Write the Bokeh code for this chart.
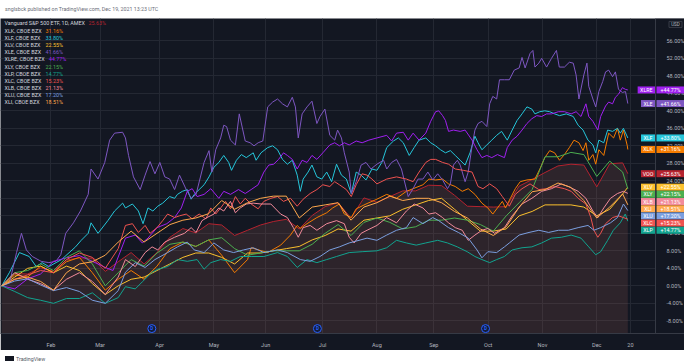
from bokeh.plotting import figure
from bokeh.models import Range1d, FixedTicker, PrintfTickFormatter, Label, Div
from bokeh.layouts import column
from bokeh.core.properties import value
from bokeh.embed import file_html
from bokeh.resources import INLINE

# ---------------- data ----------------
header_text = "snglsbck published on TradingView.com, Dec 19, 2021 13:23 UTC"
footer_text = "TradingView"

# trading-day index (0 = Jan 4 2021, 242 = Dec 17 2021) of the weekly samples
bar_idx = [0, 5, 10, 15, 20, 25, 30, 35, 40, 45, 50, 55, 60, 65, 70, 75, 80, 85, 90, 95,
           100, 105, 110, 115, 120, 125, 130, 135, 140, 145, 150, 155, 160, 165, 170, 175,
           180, 185, 190, 195, 200, 205, 210, 215, 220, 225, 230, 235, 240, 242]

month_idx = [19, 38, 61, 82, 102, 124, 145, 167, 188, 209, 230, 243]
month_labels = ["Feb", "Mar", "Apr", "May", "Jun", "Jul", "Aug", "Sep", "Oct", "Nov", "Dec", "20"]
y_ticks = [-8, -4, 0, 4, 8, 12, 16, 20, 24, 28, 32, 36, 40, 44, 48, 52, 56]
div_idx = [58, 122, 187]

voo = [0, 2.8, 2.7, 4.1, 3.4, 5.9, 6.4, 6.3, 3.3, 5.5,
       7.6, 5.0, 7.6, 11.1, 13.1, 12.1, 14.2, 13.9, 11.5, 12.7,
       13.9, 14.7, 15.2, 13.0, 16.1, 18.1, 19.0, 15.5, 20.1, 19.1,
       20.4, 21.7, 21.7, 23.0, 22.9, 20.7, 18.2, 18.1, 18.0, 18.1,
       22.8, 24.3, 25.9, 27.4, 27.8, 27.6, 22.6, 27.9, 28.1, 25.63]
xlv = [0, 2.0, 4.0, 4.5, 3.0, 4.5, 3.5, 0.5, -2.0, 0.0,
       1.5, 2.0, 3.5, 5.0, 6.5, 7.5, 7.5, 6.5, 5.0, 7.5,
       7.5, 8.0, 8.5, 9.0, 10.5, 11.5, 13.0, 12.5, 15.0, 15.5,
       16.0, 17.5, 18.5, 19.5, 20.0, 17.5, 15.0, 12.5, 12.5, 13.0,
       16.0, 17.0, 18.5, 18.5, 18.5, 18.0, 16.0, 17.5, 21.0, 22.55]
xly = [0, 3.0, 3.5, 5.0, 3.5, 6.5, 8.0, 5.0, 0.0, 3.0,
       6.0, 4.5, 7.5, 9.5, 10.0, 9.0, 10.5, 11.0, 8.5, 7.0,
       7.5, 8.0, 8.0, 8.0, 9.5, 12.0, 14.0, 11.5, 14.5, 15.5,
       14.5, 13.0, 13.5, 15.0, 15.0, 15.5, 15.0, 14.0, 12.5, 16.0,
       19.0, 22.0, 29.5, 29.5, 30.5, 30.0, 25.0, 28.5, 26.0, 22.15]
xli = [0, 1.5, 2.0, 1.0, -1.0, 3.0, 5.0, 5.5, 7.0, 10.0,
       12.5, 10.0, 12.0, 14.0, 15.0, 15.5, 16.5, 19.5, 17.5, 19.0,
       20.0, 20.5, 20.5, 15.5, 18.0, 18.5, 19.0, 15.0, 18.0, 19.0,
       20.5, 19.5, 20.0, 20.0, 19.0, 17.0, 15.5, 13.0, 11.5, 13.5,
       18.0, 21.5, 22.0, 23.5, 22.5, 19.5, 15.5, 18.0, 21.0, 18.51]

# more finely read series (each with its own time index)
xlk_idx = [0, 5, 10, 15, 20, 25, 30, 35, 40, 45, 50, 55, 60, 65, 70, 75, 80, 85, 90, 95,
           96.4, 102.8, 107.8, 111.6, 114.2, 115.4, 118.0, 121.8, 125.6, 127.9, 130.5, 132.4,
           135.1, 137.0, 140.8, 145.0, 148.8, 152.6, 156.4, 159.0, 162.8, 165.1, 167.7, 170.4,
           172.7, 175.3, 178.0, 180.3, 182.9, 185.6, 187.9, 189.8, 191.6, 193.5, 194.7, 196.6,
           198.5, 200.4, 203.0, 206.1, 208.0, 209.9, 211.8, 213.7, 215.6, 217.5, 219.4, 221.2,
           223.1, 224.7, 225.8, 226.9, 228.5, 229.6, 230.8, 232.7, 234.6, 236.5, 238.0, 239.1,
           240.3, 241.8, 242]
xlk = [0, 2.5, 2.0, 4.5, 3.0, 5.5, 6.5, 3.0, -1.0, 1.5, 3.5, 1.5, 4.5, 8.5, 10.0, 9.0, 10.5,
       7.0, 3.0, 6.0,
       8.7, 7.6, 9.3, 11.6, 13.8, 13.1, 14.2, 15.6, 16.7, 17.8, 18.7, 16.4,
       15.6, 17.6, 18.7, 19.8, 20.9, 20.0, 21.6, 22.2, 23.1, 24.4, 24.2, 24.4,
       23.3, 22.7, 21.6, 22.2, 20.9, 18.9, 17.8, 16.4, 17.8, 19.3, 17.8, 20.0,
       22.2, 23.8, 24.2, 24.4, 26.7, 29.3, 30.9, 30.4, 28.7, 30.0, 31.6, 33.3,
       32.7, 30.9, 32.7, 28.7, 30.0, 27.8, 31.1, 29.8, 34.9, 33.8, 36.0, 33.3,
       35.6, 32.0, 31.16]

xlp_idx = [0, 5, 10, 15, 20, 25, 30, 35, 40, 45, 47.8, 51.6, 54.3, 58.1, 60.3, 64.1, 67.9,
           71.7, 75.5, 78.2, 80.8, 84.6, 88.4, 92.2, 96.4, 101.3, 106.6, 110.4, 114.2, 118.0,
           121.8, 125.6, 129.4, 134.3, 139.3, 145.0, 148.8, 152.6, 156.4, 160.2, 163.9, 168.5,
           172.3, 176.1, 179.9, 182.9, 185.6, 188.6, 191.3, 194.3, 197.3, 201.1, 204.9, 208.7,
           212.5, 216.3, 220.1, 223.9, 226.9, 229.6, 231.5, 234.2, 236.4, 239.1, 241.0, 242]
xlp = [0, -1.3, -2.7, -3.3, -4.0, -2.9, -2.9, -1.6, -4.0, -2.7, -0.2, -0.7, 0.9, 3.1, 3.8,
       4.4, 6.0, 5.6, 6.0, 3.8, 5.3, 6.0, 5.6, 6.7, 6.7, 6.7, 7.6, 6.7, 4.2, 6.0,
       5.3, 6.0, 6.7, 7.6, 7.8, 8.0, 8.7, 10.4, 9.8, 9.3, 9.8, 10.4,
       9.8, 8.9, 7.8, 6.7, 6.0, 5.3, 6.0, 6.7, 8.2, 8.7, 8.9, 9.8,
       10.9, 11.1, 11.6, 10.9, 8.9, 7.1, 7.8, 10.4, 12.7, 14.4, 16.4, 14.77]

xlu_idx = [0, 5, 10, 15, 20, 25, 30, 35, 40, 45, 47.8, 51.6, 55.4, 59.2, 64.1, 67.9, 71.7,
           74.4, 78.2, 82.0, 85.8, 89.6, 93.4, 97.2, 101.3, 106.6, 110.4, 115.4, 119.2, 123.0,
           126.8, 130.5, 134.3, 138.1, 141.2, 145.0, 148.8, 152.6, 156.4, 159.0, 162.8, 166.6,
           168.9, 172.7, 176.5, 180.3, 183.7, 185.6, 187.9, 191.3, 194.3, 196.2, 200.0, 203.8,
           207.6, 211.4, 215.2, 219.0, 222.8, 226.6, 228.9, 231.5, 235.3, 238.0, 240.3, 242]
xlu = [0, 1.1, 1.6, 0.2, -1.1, -0.4, -1.3, -3.3, -4.0, -1.1, 3.1, 5.3, 4.2, 6.0, 7.6, 8.9,
       10.0, 8.2, 7.6, 9.8, 8.2, 7.6, 8.2, 8.7, 7.6, 8.2, 7.6, 6.0, 5.6, 6.7,
       8.2, 8.9, 9.8, 10.4, 10.9, 10.4, 11.6, 12.7, 13.3, 15.6, 14.2, 15.6,
       14.9, 13.3, 12.2, 10.9, 8.2, 6.4, 7.8, 7.6, 8.9, 9.8, 11.6, 12.2,
       12.7, 12.2, 12.7, 12.7, 13.3, 13.8, 12.7, 13.3, 14.4, 15.6, 18.7, 17.2]

xlb_idx = [0, 5, 10, 15, 20, 25, 30, 35, 40, 45, 47.8, 51.6, 55.4, 58.1, 60.3, 63.0, 66.8,
           70.6, 73.2, 75.1, 77.4, 79.3, 82.0, 83.9, 85.8, 88.4, 90.3, 92.2, 94.5, 97.2, 100.2,
           104.0, 107.8, 110.4, 112.7, 114.6, 116.5, 119.2, 121.8, 125.6, 129.4, 132.4, 134.3,
           136.2, 138.9, 141.2, 145.0, 148.8, 152.6, 156.4, 159.4, 162.8, 165.1, 167.7, 170.4,
           172.7, 175.3, 178.0, 180.3, 182.9, 185.6, 187.9, 190.5, 194.3, 197.3, 201.1, 204.9,
           208.7, 212.5, 216.3, 219.0, 222.8, 225.8, 228.5, 230.4, 232.7, 235.3, 238.0, 240.3, 242]
xlb = [0, 3.0, 1.5, 0.5, -1.0, 1.5, 3.0, 1.0, -2.0, 2.0, 6.0, 4.4, 7.6, 8.9, 8.2, 10.0, 11.1,
       12.0, 13.3, 12.2, 14.9, 15.6, 16.4, 17.8, 17.1, 19.3, 16.7, 17.8, 18.7, 18.9, 18.7,
       18.7, 16.4, 15.6, 13.3, 11.1, 13.3, 13.8, 12.7, 14.2, 14.9, 14.2, 11.1,
       9.8, 12.0, 12.7, 13.8, 15.6, 14.4, 17.1, 18.7, 17.8, 16.4, 16.7, 15.6,
       14.4, 13.3, 12.7, 10.4, 11.6, 12.7, 13.1, 12.0, 13.3, 16.0, 18.7, 20.0,
       21.6, 22.2, 23.3, 22.7, 21.6, 20.0, 17.1, 15.6, 17.8, 20.0, 21.1, 21.6, 21.13]

xle_idx = [0, 3.0, 5.7, 7.6, 9.5, 11.8, 15.2, 18.2, 20.9, 22.8, 24.7, 27.7, 30.4, 33.4, 34.5,
           37.2, 39.8, 41.7, 43.6, 46.7, 47.8, 49.0, 50.9, 53.5, 55.4, 57.3, 59.2, 61.1, 63.0,
           64.9, 66.8, 68.7, 71.3, 73.2, 75.1, 78.2, 80.1, 81.2, 82.7, 84.6, 85.8, 86.9, 88.4,
           90.3, 91.8, 94.1, 96.0, 97.5, 99.1, 100.9, 102.8, 104.7, 106.6, 108.5, 110.4, 112.3,
           113.5, 114.6, 116.1, 118.0, 119.9, 121.8, 123.0, 124.9, 126.8, 128.7, 129.8, 131.3,
           132.4, 134.3, 135.1, 137.0, 138.9, 140.8, 142.7, 145.0, 147.6, 148.8, 150.7, 152.6,
           154.5, 157.1, 159.0, 160.9, 162.8, 164.7, 166.6, 168.5, 170.4, 172.3, 173.4, 174.6,
           176.1, 177.2, 179.1, 180.3, 181.8, 182.9, 184.1, 185.6, 187.5, 188.6, 189.8, 191.3,
           192.4, 194.3, 196.2, 198.1, 200.0, 201.1, 202.3, 204.2, 205.3, 206.1, 207.6, 208.7,
           210.6, 212.5, 214.4, 215.5, 217.5, 219.4, 220.9, 222.0, 223.1, 225.0, 226.2, 226.9,
           228.5, 229.6, 230.8, 232.3, 233.4, 234.6, 236.1, 237.2, 238.4, 239.9, 241.1, 242]
xle = [0, 0.7, 7.6, 12.0, 8.2, 6.7, 5.6, 5.3, 5.6, 7.1, 12.0, 14.4, 17.1, 20.9, 26.7,
       24.4, 28.2, 33.3, 34.9, 35.1, 33.8, 29.8, 24.9, 22.0, 25.3, 28.4, 25.6, 28.2, 24.9,
       24.4, 22.0, 25.3, 22.0, 20.0, 20.9, 28.2, 30.9, 26.0, 31.1, 33.8, 36.7, 36.4, 33.3,
       32.2, 39.3, 33.1, 32.7, 32.0, 32.7, 33.1, 40.9, 42.0, 42.7, 41.6, 40.9, 43.1,
       40.9, 33.8, 39.3, 40.9, 42.2, 37.1, 38.7, 40.4, 34.4, 33.3, 35.6, 33.8,
       30.4, 26.0, 21.1, 23.8, 27.6, 28.2, 26.7, 27.8, 28.7, 26.7, 28.2, 28.9,
       26.7, 20.4, 22.2, 24.4, 24.4, 26.0, 24.2, 25.6, 24.2, 22.2, 23.3, 27.6,
       28.7, 27.6, 23.8, 26.0, 32.0, 35.6, 37.1, 37.6, 36.4, 41.6, 43.3, 42.7,
       47.1, 47.1, 47.1, 49.3, 49.8, 52.2, 49.8, 53.1, 53.8, 50.0, 50.9, 52.0,
       50.0, 52.0, 53.8, 50.0, 50.0, 51.1, 50.9, 48.2, 42.7, 48.2, 50.9, 45.6,
       42.7, 40.9, 44.4, 46.7, 48.9, 49.3, 47.8, 48.9, 44.9, 44.2, 44.4, 41.66]

xlf_idx = [0, 3.0, 6.8, 10.6, 13.3, 15.6, 18.2, 23.1, 28.5, 30.7, 33.4, 34.5, 37.2, 41.0, 43.6,
           46.7, 47.8, 50.5, 52.8, 54.6, 56.5, 58.4, 60.3, 62.2, 64.9, 66.8, 67.9, 69.8, 71.7,
           73.2, 74.4, 76.3, 78.2, 80.1, 82.0, 83.9, 85.8, 87.7, 88.8, 90.7, 92.6, 94.5, 97.2,
           98.3, 100.2, 102.8, 104.7, 106.6, 108.5, 110.4, 112.3, 114.2, 115.4, 116.5, 118.4,
           119.9, 121.8, 123.7, 125.6, 127.5, 129.4, 131.3, 133.2, 135.1, 137.0, 138.9, 140.8,
           143.1, 145.0, 146.9, 148.8, 151.4, 153.3, 155.2, 157.5, 159.4, 161.3, 163.9, 165.8,
           167.7, 169.6, 171.5, 173.4, 175.3, 177.2, 179.1, 181.0, 182.9, 184.1, 185.6, 187.5,
           189.4, 191.3, 193.2, 195.4, 197.3, 199.2, 201.1, 203.0, 204.9, 206.1, 208.0, 209.9,
           211.8, 213.7, 215.6, 218.2, 220.9, 222.8, 224.7, 226.6, 228.5, 229.6, 230.8, 232.7,
           234.2, 236.1, 238.0, 239.1, 240.3, 242]
xlf = [0, 3.1, 7.6, 6.7, 4.4, 5.3, 4.4, 6.0, 8.9, 10.4, 12.0, 14.4, 12.0, 14.9, 17.1,
       18.9, 17.8, 18.7, 17.1, 14.2, 17.8, 17.1, 18.2, 18.9, 20.4, 20.0, 20.9, 21.6, 22.0,
       19.8, 20.9, 22.0, 23.1, 24.9, 27.1, 28.2, 29.8, 28.2, 26.4, 28.7, 30.0, 29.3, 30.4,
       28.7, 30.4, 31.6, 32.0, 31.1, 28.9, 27.8, 28.7, 25.3, 21.6, 24.4, 26.0,
       27.6, 24.9, 24.4, 26.0, 23.8, 27.8, 25.3, 24.4, 21.1, 26.0, 25.3, 24.2,
       26.7, 26.4, 28.2, 31.6, 33.1, 33.8, 32.7, 29.8, 31.6, 33.3, 33.8, 32.7,
       32.0, 31.1, 30.4, 30.9, 29.8, 28.7, 27.6, 30.4, 34.2, 32.7, 31.1, 32.2,
       33.3, 34.4, 35.3, 33.3, 35.6, 37.8, 39.3, 40.9, 40.4, 39.3, 39.8, 40.0,
       39.8, 39.3, 38.9, 39.3, 38.7, 36.7, 35.6, 33.3, 32.2, 30.4, 33.3, 32.7,
       35.6, 35.3, 36.0, 34.9, 36.0, 33.80]

xlre_idx = [0, 5, 10, 15, 20, 25, 30, 35, 40, 43, 47.8, 51.6, 54.3, 56.5, 60.0, 63.8, 66.8,
            69.4, 71.7, 73.6, 75.5, 78.2, 80.8, 83.9, 85.8, 88.4, 91.5, 94.1, 96.4, 99.1,
            101.3, 103.2, 105.1, 107.0, 108.9, 110.4, 112.3, 114.2, 116.1, 118.0, 119.9, 121.8,
            124.1, 126.8, 128.7, 130.5, 132.4, 134.3, 137.0, 139.3, 141.9, 145.0, 148.8, 150.7,
            152.6, 155.2, 157.1, 159.0, 161.3, 163.9, 165.8, 167.7, 168.9, 170.4, 171.5, 172.7,
            174.6, 177.2, 179.1, 181.8, 183.7, 185.6, 187.5, 189.4, 191.6, 194.3, 195.4, 197.3,
            199.2, 201.1, 203.0, 204.9, 206.8, 208.7, 210.6, 212.5, 215.2, 217.5, 220.1, 222.0,
            223.9, 225.8, 226.9, 228.5, 230.4, 231.5, 233.4, 234.6, 236.1, 237.2, 238.4, 239.9,
            241.1, 242]
xlre = [0, -0.7, 1.6, 2.7, 5.6, 6.4, 6.9, 5.6, 4.2, 3.5, 10.9, 11.6, 9.8, 10.9, 13.3, 14.2, 15.6,
        17.8, 21.6, 22.2, 20.4, 20.9, 22.2, 20.0, 21.6, 20.9, 22.0, 21.1, 22.0, 23.1,
        26.0, 27.6, 27.8, 28.9, 30.4, 29.8, 28.9, 26.7, 28.7, 28.2, 29.8, 28.9,
        30.4, 32.2, 32.7, 32.0, 32.7, 32.2, 33.1, 32.7, 33.3, 33.8, 34.4, 33.1,
        34.9, 35.1, 33.3, 34.9, 33.3, 34.9, 37.6, 39.8, 40.0, 38.9, 37.8, 35.3,
        35.6, 35.3, 35.6, 33.3, 31.1, 29.3, 29.8, 29.3, 30.0, 29.3, 31.6, 33.3,
        34.2, 35.6, 37.1, 38.2, 38.9, 38.7, 39.3, 39.3, 39.8, 39.8, 39.3, 39.8,
        38.7, 41.6, 38.7, 37.6, 35.6, 38.7, 41.1, 42.0, 41.6, 43.1, 43.8, 45.3,
        44.9, 44.77]

xlc_idx = [0, 5, 10, 15, 20, 25, 30, 35, 40, 45, 47.8, 50.5, 52.8, 55.4, 57.3, 60.0, 62.2,
           64.1, 66.8, 68.7, 71.3, 73.6, 76.3, 78.9, 80.8, 82.7, 84.6, 86.5, 88.4, 90.3, 92.2,
           94.1, 96.4, 99.1, 101.3, 104.0, 106.6, 108.9, 111.6, 114.2, 116.5, 119.2, 121.8,
           124.1, 126.8, 128.7, 130.5, 133.2, 135.1, 137.0, 139.3, 141.2, 143.1, 145.0, 148.8,
           152.6, 156.4, 159.0, 161.3, 163.9, 165.8, 167.7, 170.4, 172.7, 175.3, 178.4, 181.8,
           184.1, 186.0, 188.6, 191.3, 193.5, 196.2, 198.5, 201.1, 204.2, 207.6, 210.6, 213.7,
           217.5, 220.1, 222.8, 225.8, 227.7, 228.9, 230.4, 231.5, 233.4, 236.1, 238.4, 240.3, 242]
xlc = [0, 1.5, 2.5, 3.5, 3.0, 6.0, 7.5, 6.5, 4.0, 8.5, 13.8, 14.2, 12.2, 13.8, 12.0, 13.3, 14.9,
       16.4, 15.6, 16.0, 16.4, 15.3, 16.4, 15.3, 17.8, 16.4, 17.8, 19.3, 17.6, 20.4, 18.7,
       20.0, 18.7, 17.6, 19.3, 20.0, 20.4, 19.3, 20.0, 18.2, 19.8, 21.1, 22.0,
       23.1, 22.7, 23.8, 23.1, 22.0, 20.4, 23.1, 25.6, 25.3, 24.4, 23.3, 24.4,
       24.9, 24.4, 23.8, 26.0, 28.2, 28.9, 28.9, 28.2, 27.8, 26.7, 26.4, 26.0,
       22.7, 22.2, 23.3, 22.2, 20.4, 18.2, 20.9, 22.2, 23.3, 22.0, 22.2, 22.7,
       22.2, 21.6, 20.0, 18.7, 15.6, 12.7, 11.1, 12.0, 14.2, 15.6, 16.0, 15.6, 15.23]

tickers = ["VOO", "XLK", "XLF", "XLV", "XLE", "XLRE", "XLY", "XLP", "XLC", "XLB", "XLU", "XLI"]
names = ["Vanguard S&P 500 ETF, 1D, AMEX", "XLK, CBOE BZX", "XLF, CBOE BZX", "XLV, CBOE BZX",
         "XLE, CBOE BZX", "XLRE, CBOE BZX", "XLY, CBOE BZX", "XLP, CBOE BZX", "XLC, CBOE BZX",
         "XLB, CBOE BZX", "XLU, CBOE BZX", "XLI, CBOE BZX"]
xs = [bar_idx, xlk_idx, xlf_idx, bar_idx, xle_idx, xlre_idx, bar_idx, xlp_idx, xlc_idx,
      xlb_idx, xlu_idx, bar_idx]
values = [voo, xlk, xlf, xlv, xle, xlre, xly, xlp, xlc, xlb, xlu, xli]
colors = ["#b5232f", "#f57c00", "#26c6da", "#fbc02d", "#7e57c2", "#a020f0",
          "#4caf50", "#12a38f", "#ef5350", "#f28b9b", "#7b9fe0", "#ffa94d"]

# ---------------- layout constants ----------------
BG = "#131722"
GRID = "#242833"
SEP = "#363a45"
TXT = "#b2b5be"
FONT = "Roboto"
W, H = 684, 332
AXIS_B = 12
SCALE_W = 29                      # width of the price scale strip (px)
Y0, Y1 = -10.9, 61.1
X0, X_SEP = -0.5, 252.7
PLOT_W = W - SCALE_W
PXX = PLOT_W / (X_SEP - X0)       # pixels per bar
X1 = X_SEP + SCALE_W / PXX
FRAME_H = H - AXIS_B
PX = FRAME_H / (Y1 - Y0)          # pixels per percent


def text_w(s, size):
    w = 0.0
    for ch in s:
        if ch.isupper():
            w += 0.63
        elif ch.islower():
            w += 0.5
        elif ch.isdigit():
            w += 0.56
        elif ch in " ,.":
            w += 0.24
        else:
            w += 0.65
    return w * size


p = figure(width=W, height=H, x_range=Range1d(X0, X1), y_range=Range1d(Y0, Y1),
           y_axis_location="right", output_backend="svg", toolbar_location=None,
           background_fill_color=BG, border_fill_color=BG, outline_line_color=None,
           min_border_left=0, min_border_top=0, min_border_right=0,
           min_border_bottom=AXIS_B)

p.xaxis.ticker = FixedTicker(ticks=month_idx)
p.xaxis.major_label_overrides = {m: l for m, l in zip(month_idx, month_labels)}
p.yaxis.ticker = FixedTicker(ticks=y_ticks)
p.yaxis.formatter = PrintfTickFormatter(format="%.2f%%")
p.yaxis.fixed_location = X_SEP   # price scale drawn at the separator, labels to its right
for ax in (p.xaxis, p.yaxis):
    ax.major_tick_line_color = None
    ax.minor_tick_line_color = None
    ax.axis_line_color = SEP
    ax.major_label_text_color = TXT
    ax.major_label_text_font = FONT
    ax.major_label_text_font_size = "5.5px"
p.xaxis.major_label_standoff = 2
p.yaxis.major_label_standoff = 5
p.xgrid.ticker = FixedTicker(ticks=month_idx)
p.ygrid.ticker = FixedTicker(ticks=y_ticks)
p.xgrid.grid_line_color = GRID
p.ygrid.grid_line_color = GRID

# price-scale strip hides the grid to the right of the separator
p.quad(left=[X_SEP], right=[X1], bottom=[Y0], top=[Y1], fill_color=BG, line_color=None)

# VOO area + all lines
p.varea(x=bar_idx, y1=[Y0] * len(bar_idx), y2=voo, fill_color="#b0675a", fill_alpha=0.17)
for xv, vals, col in zip(xs, values, colors):
    p.line(xv, vals, line_color=col, line_width=1.0)

# dividend markers near the bottom
div_y = [Y0 + 5 / PX] * len(div_idx)
p.scatter(div_idx, div_y, size=8, fill_color="#131c3a", line_color="#2962ff", line_width=1)
p.text(div_idx, div_y, text=["D"] * len(div_idx), text_color="#2962ff",
       text_font=value(FONT), text_font_size="4.5px", text_align="center",
       text_baseline="middle", text_font_style="bold")

# legend (top-left)
LF = 5.4
for k, (nm, vals, col) in enumerate(zip(names, values, colors)):
    yk = Y1 - (5 + 7.3 * k) / PX
    p.add_layout(Label(x=X0 + 4 / PXX, y=yk, text=nm, text_color="#d1d4dc",
                       text_font=FONT, text_font_size="%spx" % LF, text_baseline="middle"))
    p.add_layout(Label(x=X0 + (4 + text_w(nm, LF) + 3) / PXX, y=yk,
                       text="%.2f%%" % vals[-1], text_color=col, text_font=FONT,
                       text_font_size="%spx" % LF, text_baseline="middle"))

# price tags at the right, pushed apart so they do not overlap
TF = 5.3
order = sorted(range(len(tickers)), key=lambda i: -values[i][-1])
gap = 7.3 / PX
prev = None
tag_y, tag_col, tk_x, tk_w, tk_txt, val_txt = [], [], [], [], [], []
for i in order:
    v = values[i][-1]
    pos = v if prev is None else min(v, prev - gap)
    prev = pos
    w_px = text_w(tickers[i], TF) + 4
    tag_y.append(pos)
    tag_col.append(colors[i])
    tk_w.append(w_px)
    tk_x.append(X_SEP - (w_px / 2 + 0.5) / PXX)
    tk_txt.append(tickers[i])
    val_txt.append("+%.2f%%" % v)
val_x = [(X_SEP + 1 / PXX + X1) / 2] * len(tag_y)
p.rect(tk_x, tag_y, width=tk_w, width_units="screen", height=7, height_units="screen",
       fill_color=tag_col, line_color=None, level="overlay")
p.rect(val_x, tag_y, width=SCALE_W - 1, width_units="screen", height=7, height_units="screen",
       fill_color=tag_col, line_color=None, level="overlay")
p.text(tk_x, tag_y, text=tk_txt, text_color="#ffffff", text_font=value(FONT),
       text_font_size="%spx" % TF, text_align="center", text_baseline="middle", level="overlay")
p.text(val_x, tag_y, text=val_txt, text_color="#ffffff", text_font=value(FONT),
       text_font_size="%spx" % TF, text_align="center", text_baseline="middle", level="overlay")

# currency badge
usd_x = [X_SEP + 20 / PXX]
usd_y = [Y1 - 6 / PX]
p.rect(usd_x, usd_y, width=13, width_units="screen", height=6, height_units="screen",
       fill_color=None, line_color="#434651", line_width=0.8, level="overlay")
p.text(usd_x, usd_y, text=["USD"], text_color=TXT, text_font=value(FONT),
       text_font_size="4.6px", text_align="center", text_baseline="middle", level="overlay")

header = Div(text=header_text, width=W, height=8,
             styles={"font-size": "5.3px", "line-height": "8px", "color": "#6a6d78",
                     "font-family": FONT, "white-space": "nowrap"})
footer = Div(text='<span style="display:inline-block;width:9px;height:5px;background:#131722;'
                  'margin-right:2px"></span>' + footer_text,
             width=W, height=8,
             styles={"font-size": "5.3px", "line-height": "8px", "color": "#555a66",
                     "font-family": FONT, "white-space": "nowrap"})

layout = column(header, p, footer, spacing=0)
open("out.html", "w").write(file_html(layout, INLINE))
